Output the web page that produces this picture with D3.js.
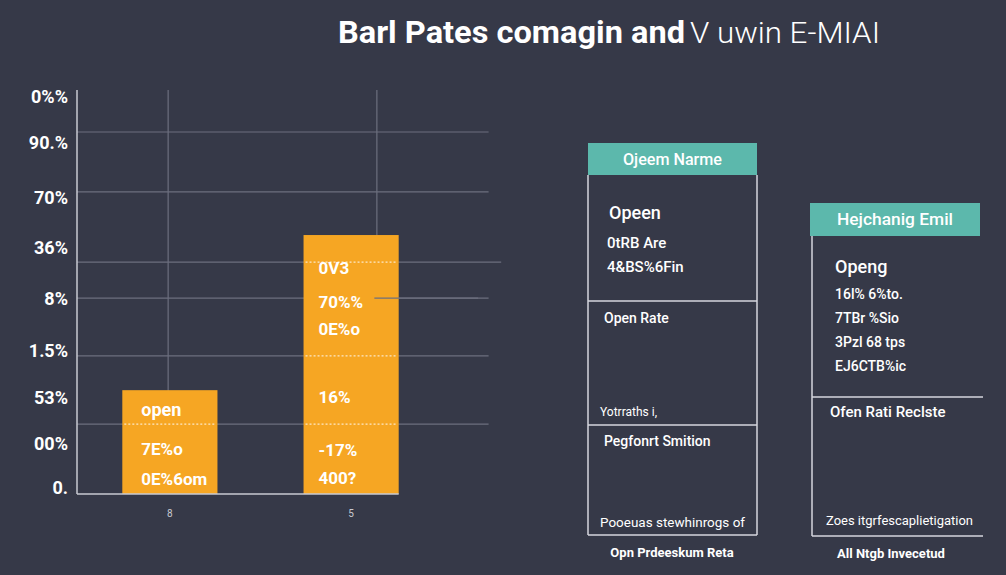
<!DOCTYPE html>
<html>
<head>
<meta charset="utf-8">
<script src="https://cdn.jsdelivr.net/npm/d3@7"></script>
<style>
  html, body { margin: 0; padding: 0; background: #363948; }
  svg { display: block; }
</style>
</head>
<body>
<svg id="chart" width="1006" height="575"></svg>
<script>
// ---- data ----
const categories = ['8', '5'];
const barValues = [25.7, 64.1];

const yTickValues = [1.5, 12.4, 23.8, 35.4, 48.5, 61.1, 73.3, 86.9, 98.3];
const yTickLabels = ['0.', '00%', '53%', '1.5%', '8%', '36%', '70%', '90.%', '0%%'];

const gridValues = [17.3, 34.2, 48.5, 57.4, 74.8, 89.6];
const dottedInBars = [17.3, 34.2, 57.4];
const vGridValues = [2.17, 7.14];

const barTexts = [
  [
    { text: 'open', v: 21.0, bold: true },
    { text: '7E%o', v: 11.1 },
    { text: '0E%6om', v: 3.7 }
  ],
  [
    { text: '0V3', v: 55.9 },
    { text: '70%%', v: 47.5 },
    { text: '0E%o', v: 40.8 },
    { text: '16%', v: 24.0 },
    { text: '-17%', v: 10.9 },
    { text: '400?', v: 4.0 }
  ]
];

const titleBold = 'Barl Pates comagin and';
const titleLight = 'V uwin E-MIAI';

const panelHeaders = ['Ojeem Narme', 'Hejchanig Emil'];
const panelBigLabels = ['Opeen', 'Openg'];
const panelSmallLines = [
  ['0tRB Are', '4&BS%6Fin'],
  ['16l% 6%to.', '7TBr %Sio', '3Pzl 68 tps', 'EJ6CTB%ic']
];
const panelSections = [
  ['Open Rate', 'Yotrraths i,', 'Pegfonrt Smition', 'Pooeuas stewhinrogs of'],
  ['Ofen Rati Reclste', 'Zoes itgrfescaplietigation']
];
const panelFooters = ['Opn Prdeeskum Reta', 'All Ntgb Invecetud'];

// ---- setup ----
const svg = d3.select('#chart');
const bg = '#363948';
const barColor = '#f6a623';
const teal = '#5cb8ac';
const lineColor = '#d6d6de';
const gridColor = '#6c6f7e';
const font = 'Roboto, "Noto Sans", sans-serif';

svg.append('rect').attr('width', 1006).attr('height', 575).attr('fill', bg);

const y = d3.scaleLinear().domain([0, 100]).range([494, 90]);
const xLin = d3.scaleLinear().domain([0, 10]).range([77, 497]);
const x = d3.scaleBand()
  .domain(categories)
  .range([77, 444])
  .paddingInner(0.475)
  .paddingOuter(0.25);

// title
svg.append('text')
  .attr('x', 338).attr('y', 43)
  .attr('font-family', font).attr('font-weight', 700)
  .attr('font-size', 31).attr('fill', '#fff')
  .attr('textLength', 347).attr('lengthAdjust', 'spacingAndGlyphs')
  .text(titleBold);
svg.append('text')
  .attr('x', 690).attr('y', 43)
  .attr('font-family', font).attr('font-weight', 300)
  .attr('font-size', 29).attr('fill', '#fff')
  .attr('textLength', 190).attr('lengthAdjust', 'spacingAndGlyphs')
  .text(titleLight);

// grid
const grid = svg.append('g');
grid.selectAll('line.h')
  .data(gridValues)
  .enter().append('line')
  .attr('class', 'h')
  .attr('x1', xLin(0)).attr('x2', d => d === 57.4 ? xLin(10.1) : xLin(9.8))
  .attr('y1', d => y(d)).attr('y2', d => y(d))
  .attr('stroke', gridColor).attr('stroke-width', 1.2);

grid.selectAll('line.v')
  .data(vGridValues)
  .enter().append('line')
  .attr('class', 'v')
  .attr('x1', d => xLin(d)).attr('x2', d => xLin(d))
  .attr('y1', y(100)).attr('y2', y(0))
  .attr('stroke', gridColor).attr('stroke-width', 1.2);

// bars
const bars = svg.append('g');
bars.selectAll('rect')
  .data(categories)
  .enter().append('rect')
  .attr('x', d => x(d))
  .attr('width', x.bandwidth())
  .attr('y', (d, i) => y(barValues[i]))
  .attr('height', (d, i) => y(0) - y(barValues[i]))
  .attr('fill', barColor);

// dotted lines inside bars
categories.forEach((c, i) => {
  bars.selectAll('line.dot' + i)
    .data(dottedInBars.filter(v => v < barValues[i]))
    .enter().append('line')
    .attr('x1', x(c) + 2).attr('x2', x(c) + x.bandwidth() - 2)
    .attr('y1', d => y(d)).attr('y2', d => y(d))
    .attr('stroke', '#fff').attr('stroke-opacity', 0.75)
    .attr('stroke-width', 1.2).attr('stroke-dasharray', '2,2');
});

// partial line over the tall bar
bars.append('line')
  .attr('x1', xLin(7.08)).attr('x2', xLin(9.55))
  .attr('y1', y(48.5)).attr('y2', y(48.5))
  .attr('stroke', gridColor).attr('stroke-width', 1.2);

// bar texts
categories.forEach((c, i) => {
  bars.selectAll('text.bt' + i)
    .data(barTexts[i])
    .enter().append('text')
    .attr('x', x(c) + (i === 0 ? 19 : 15))
    .attr('y', d => y(d.v))
    .attr('dominant-baseline', 'central')
    .attr('font-family', font)
    .attr('font-weight', 700)
    .attr('font-size', d => d.bold ? 18 : 17)
    .attr('fill', '#fff')
    .text(d => d.text);
});

// axes
svg.append('line')
  .attr('x1', xLin(0)).attr('x2', xLin(0))
  .attr('y1', y(100)).attr('y2', y(0))
  .attr('stroke', '#c9cad2').attr('stroke-width', 1.5);
svg.append('line')
  .attr('x1', xLin(0)).attr('x2', x(categories[1]) + x.bandwidth())
  .attr('y1', y(0)).attr('y2', y(0))
  .attr('stroke', '#c9cad2').attr('stroke-width', 1.5);

svg.append('g').selectAll('text')
  .data(yTickValues)
  .enter().append('text')
  .attr('x', 68)
  .attr('y', d => y(d))
  .attr('text-anchor', 'end')
  .attr('dominant-baseline', 'central')
  .attr('font-family', font).attr('font-weight', 700)
  .attr('font-size', 18).attr('fill', '#fff')
  .text((d, i) => yTickLabels[i]);

svg.append('g').selectAll('text')
  .data(categories)
  .enter().append('text')
  .attr('x', d => x(d) + x.bandwidth() / 2)
  .attr('y', 517)
  .attr('text-anchor', 'middle')
  .attr('font-family', font).attr('font-size', 10)
  .attr('fill', '#c8c9d0')
  .text(d => d);

// ---- side panels ----
const panels = [
  { x: 588, hy: 143, w: 169, hh: 32, bottom: 535, divs: [301, 425], right: true, lx: 588, hLen: 99 },
  { x: 810, hy: 203, w: 170, hh: 33, bottom: 536, divs: [397], right: false, lx: 812, hLen: 116 }
];

panels.forEach((p, i) => {
  const g = svg.append('g');
  const top = p.hy + p.hh;
  const x2 = i === 0 ? p.x + p.w : p.x + p.w + 3;

  g.append('rect')
    .attr('x', p.x).attr('y', p.hy)
    .attr('width', p.w).attr('height', p.hh)
    .attr('fill', teal);
  g.append('text')
    .attr('x', p.x + p.w / 2 - p.hLen / 2).attr('y', p.hy + p.hh / 2)
    .attr('dominant-baseline', 'central')
    .attr('font-family', font).attr('font-weight', 500)
    .attr('font-size', 16).attr('fill', '#fff')
    .attr('textLength', p.hLen).attr('lengthAdjust', 'spacingAndGlyphs')
    .text(panelHeaders[i]);

  g.append('line')
    .attr('x1', p.lx).attr('x2', p.lx).attr('y1', top).attr('y2', p.bottom)
    .attr('stroke', lineColor).attr('stroke-width', 1.5);
  if (p.right) {
    g.append('line')
      .attr('x1', p.x + p.w).attr('x2', p.x + p.w).attr('y1', top).attr('y2', p.bottom)
      .attr('stroke', lineColor).attr('stroke-width', 1.5);
  }
  p.divs.concat([p.bottom]).forEach(yy => {
    g.append('line')
      .attr('x1', p.lx).attr('x2', x2).attr('y1', yy).attr('y2', yy)
      .attr('stroke', lineColor).attr('stroke-width', 1.5);
  });

  // big label
  g.append('text')
    .attr('x', i === 0 ? 609 : 835).attr('y', i === 0 ? 219 : 273)
    .attr('font-family', font).attr('font-weight', 500)
    .attr('font-size', 18).attr('fill', '#fff')
    .text(panelBigLabels[i]);

  // small lines
  g.selectAll('text.sm')
    .data(panelSmallLines[i])
    .enter().append('text')
    .attr('x', i === 0 ? 607 : 835)
    .attr('y', (d, j) => i === 0 ? 248 + j * 24 : 299 + j * 24)
    .attr('font-family', font).attr('font-weight', 500)
    .attr('font-size', i === 0 ? 15 : 14).attr('fill', '#fff')
    .text(d => d);

  g.append('text')
    .attr('x', 672 + i * 219).attr('y', i === 0 ? 557 : 558)
    .attr('text-anchor', 'middle')
    .attr('font-family', font).attr('font-weight', 700)
    .attr('font-size', 13).attr('fill', '#fff')
    .text(panelFooters[i]);
});

// section texts
const s1 = panelSections[0];
const sec1 = [
  { t: s1[0], x: 604, y: 323, w: 500, s: 14 },
  { t: s1[1], x: 600, y: 416, w: 400, s: 12 },
  { t: s1[2], x: 604, y: 446, w: 500, s: 14 },
  { t: s1[3], x: 600, y: 527, w: 400, s: 12, len: 145 }
];
const s2 = panelSections[1];
const sec2 = [
  { t: s2[0], x: 830, y: 417, w: 500, s: 15 },
  { t: s2[1], x: 826, y: 525, w: 400, s: 12, len: 147 }
];
svg.append('g').selectAll('text')
  .data(sec1.concat(sec2))
  .enter().append('text')
  .attr('x', d => d.x).attr('y', d => d.y)
  .attr('font-family', font)
  .attr('font-weight', d => d.w)
  .attr('font-size', d => d.s)
  .attr('fill', '#fff')
  .attr('textLength', d => d.len || null)
  .attr('lengthAdjust', 'spacingAndGlyphs')
  .text(d => d.t);
</script>
</body>
</html>
